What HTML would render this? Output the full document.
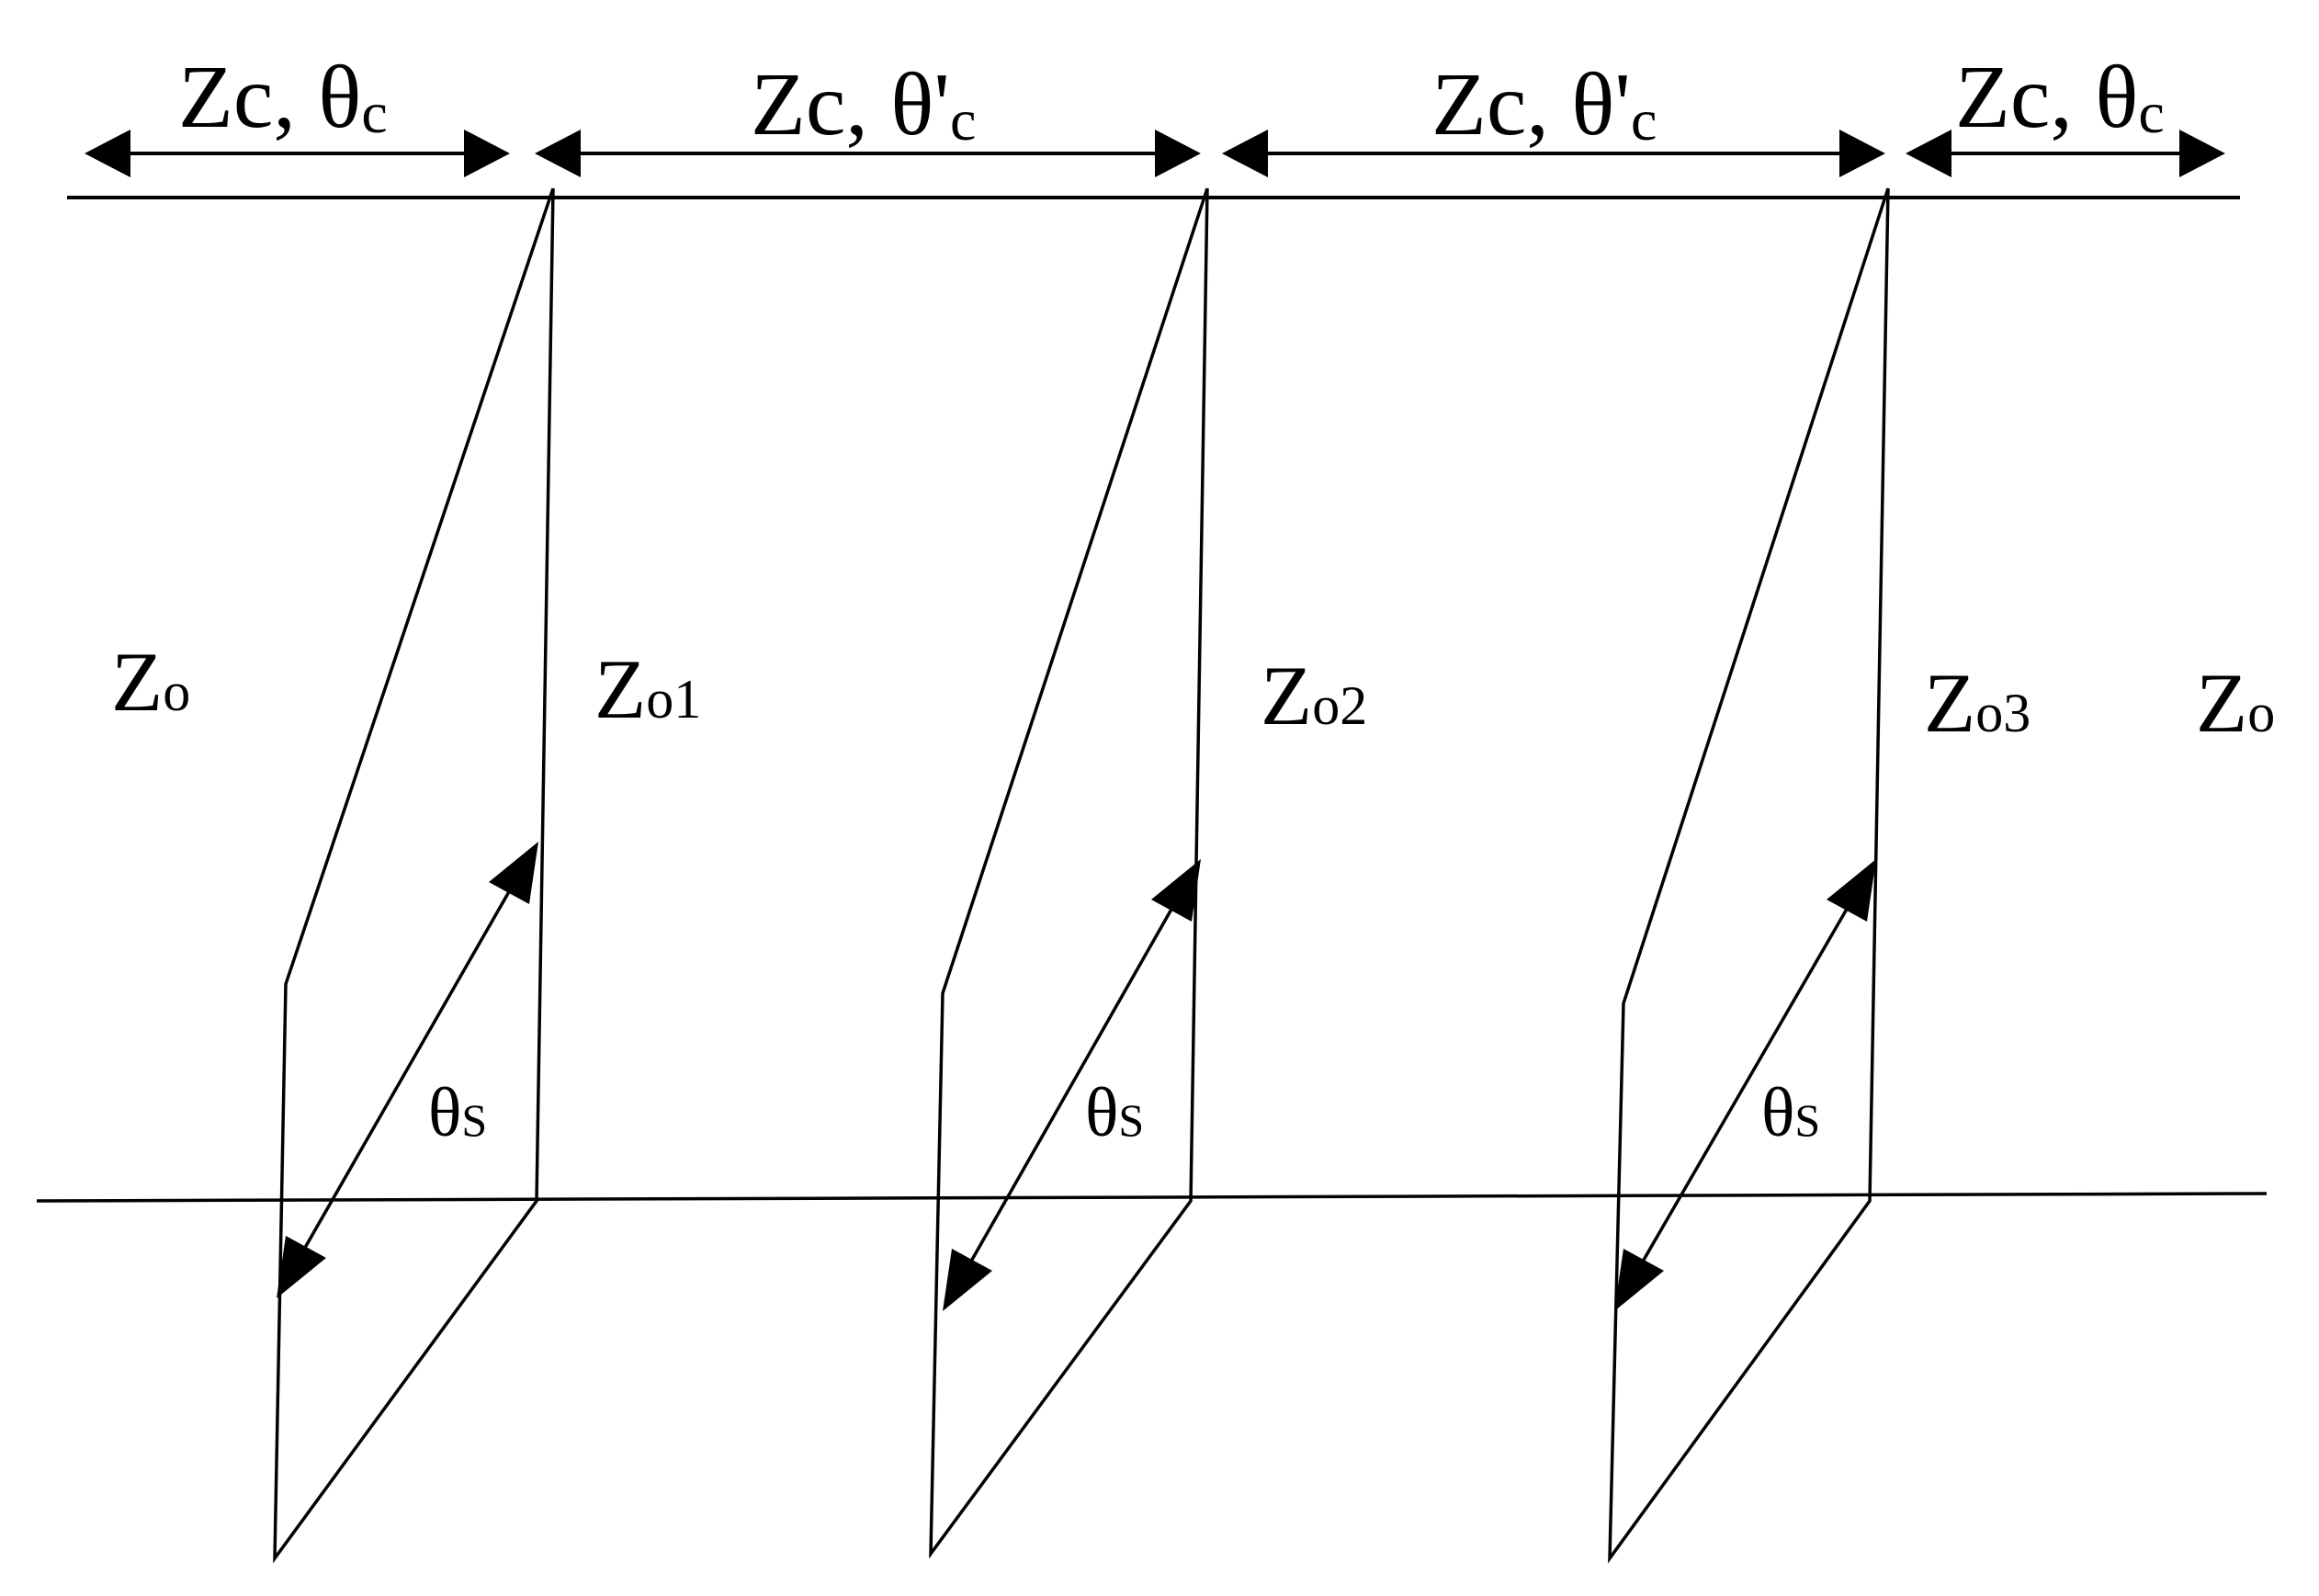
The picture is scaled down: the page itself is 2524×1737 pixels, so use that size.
<!DOCTYPE html>
<html><head><meta charset="utf-8"><style>html,body{margin:0;padding:0;background:#fff}svg{display:block}text{font-family:"Liberation Serif",serif;fill:#000}</style></head>
<body>
<svg width="2524" height="1737" viewBox="0 0 2524 1737" xmlns="http://www.w3.org/2000/svg">
<g stroke="#000" stroke-width="3.5" fill="none">
<line x1="73" y1="215" x2="2438" y2="215" stroke-width="4"/>
<line x1="40" y1="1307" x2="2467" y2="1299"/>
<polyline points="602,205 584,1307 299,1696 311,1071 602,205"/>
<polyline points="1314,205 1296,1307 1013,1691 1026,1081 1314,205"/>
<polyline points="2055,205 2035,1307 1752,1696 1767,1092 2055,205"/>
<g stroke-width="4">
<line x1="130" y1="167" x2="515" y2="167"/>
<line x1="620" y1="167" x2="1267" y2="167"/>
<line x1="1370" y1="167" x2="2012" y2="167"/>
<line x1="2114" y1="167" x2="2382" y2="167"/>
</g>
<line x1="560" y1="960" x2="325" y2="1370"/>
<line x1="1281" y1="979" x2="1050" y2="1385"/>
<line x1="2016" y1="979" x2="1781" y2="1385"/>
</g>
<g fill="#000">
<polygon points="92,167 142,141 142,193"/>
<polygon points="555,167 505,141 505,193"/>
<polygon points="582,167 632,141 632,193"/>
<polygon points="1307,167 1257,141 1257,193"/>
<polygon points="1330,167 1380,141 1380,193"/>
<polygon points="2052,167 2002,141 2002,193"/>
<polygon points="2074,167 2124,141 2124,193"/>
<polygon points="2422,167 2372,141 2372,193"/>
<polygon points="586,916 576,984 532,960"/>
<polygon points="301,1413 355,1369 311,1345"/>
<polygon points="1307,935 1297,1003 1253,979"/>
<polygon points="1026,1427 1080,1383 1036,1359"/>
<polygon points="2042,935 2032,1003 1988,979"/>
<polygon points="1757,1427 1811,1383 1767,1359"/>
</g>
<g font-size="98">
<text x="194" y="138">Zc, θ<tspan font-size="64" dy="6">c</tspan></text>
<text x="817" y="146">Zc, θ'<tspan font-size="64" dy="6">c</tspan></text>
<text x="1558" y="146">Zc, θ'<tspan font-size="64" dy="6">c</tspan></text>
<text x="2128" y="138">Zc, θ<tspan font-size="64" dy="6">c</tspan></text>
</g>
<g font-size="92">
<text x="121" y="773">Z<tspan font-size="60">o</tspan></text>
<text x="647" y="781">Z<tspan font-size="60">o1</tspan></text>
<text x="1372" y="788">Z<tspan font-size="60">o2</tspan></text>
<text x="2094" y="796">Z<tspan font-size="60">o3</tspan></text>
<text x="2390" y="796">Z<tspan font-size="60">o</tspan></text>
</g>
<g font-size="76">
<text x="466" y="1236">θ<tspan font-size="50">S</tspan></text>
<text x="1181" y="1236">θ<tspan font-size="50">S</tspan></text>
<text x="1917" y="1236">θ<tspan font-size="50">S</tspan></text>
</g>
</svg>
</body></html>
